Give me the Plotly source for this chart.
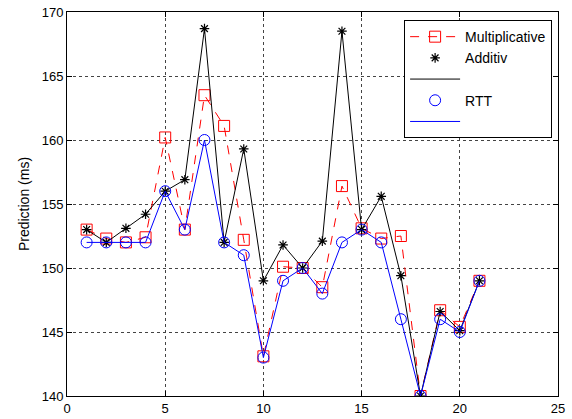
import plotly.graph_objects as go

x = list(range(1, 22))
multiplicative = [153.0, 152.3, 152.0, 152.4, 160.2, 153.0, 163.5, 161.1, 152.2, 143.1,
                  150.1, 150.0, 148.5, 156.4, 153.1, 152.3, 152.5, 140.0, 146.7, 145.4, 149.0]
additiv = [153.0, 152.0, 153.1, 154.2, 156.0, 156.9, 168.7, 152.0, 159.3, 149.0,
           151.8, 150.0, 152.1, 168.5, 153.0, 155.6, 149.4, 140.0, 146.6, 145.1, 149.0]
rtt = [152.0, 152.0, 152.0, 152.0, 156.0, 153.0, 160.0, 152.0, 151.0, 143.0,
       149.0, 150.0, 148.0, 152.0, 153.0, 152.0, 146.0, 140.0, 146.0, 145.0, 149.0]

x_ticks = [0, 5, 10, 15, 20, 25]
y_ticks = [140, 145, 150, 155, 160, 165, 170]

FONT = "Liberation Sans, Arial, sans-serif"

fig = go.Figure()
fig.add_trace(go.Scatter(x=x, y=multiplicative, mode="lines+markers", name="Multiplicative",
                         line=dict(color="#ff0000", width=1, dash="dash"),
                         marker=dict(symbol="square-open", size=11, color="#ff0000",
                                     line=dict(width=1, color="#ff0000"))))
fig.add_trace(go.Scatter(x=x, y=additiv, mode="markers", name="Additiv",
                         marker=dict(symbol="asterisk-open", size=8, color="#000000",
                                     line=dict(width=1.2, color="#000000"))))
fig.add_trace(go.Scatter(x=x, y=additiv, mode="lines", name=" ",
                         line=dict(color="#000000", width=1)))
fig.add_trace(go.Scatter(x=x, y=rtt, mode="markers", name="RTT",
                         marker=dict(symbol="circle-open", size=11, color="#0000ff",
                                     line=dict(width=1, color="#0000ff"))))
fig.add_trace(go.Scatter(x=x, y=rtt, mode="lines", name="  ",
                         line=dict(color="#0000ff", width=1)))

axis_common = dict(showline=True, linecolor="black", linewidth=1, mirror="ticks",
                   ticks="inside", ticklen=5, tickcolor="black", automargin=False,
                   showgrid=True, gridcolor="#444444", griddash="dot", gridwidth=1,
                   zeroline=False, tickfont=dict(family=FONT, size=13, color="black"))

fig.update_xaxes(range=[0, 25], tickvals=x_ticks, **axis_common)
fig.update_yaxes(range=[140, 170], tickvals=y_ticks,
                 title=dict(text="Prediction (ms)", font=dict(family=FONT, size=14, color="black"),
                            standoff=8),
                 **axis_common)

fig.update_layout(
    width=572, height=419,
    margin=dict(l=67, r=14, t=12, b=23, autoexpand=False),
    paper_bgcolor="white", plot_bgcolor="white",
    showlegend=True,
    legend=dict(x=0.988, y=0.979, xanchor="right", yanchor="top",
                bgcolor="white", bordercolor="black", borderwidth=1,
                font=dict(family=FONT, size=14, color="black"),
                tracegroupgap=0, itemwidth=50),
    font=dict(family=FONT, color="black"),
)

fig.write_html("out.html")
